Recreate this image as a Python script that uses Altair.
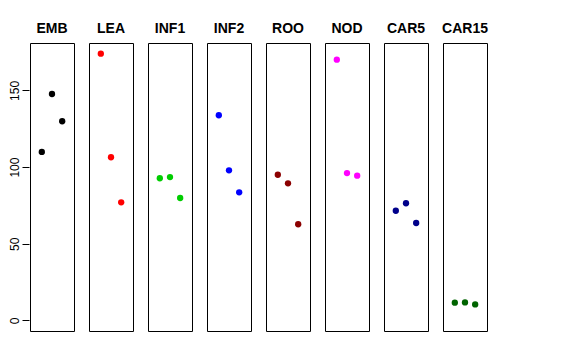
import altair as alt
import pandas as pd

samples = ["EMB", "LEA", "INF1", "INF2", "ROO", "NOD", "CAR5", "CAR15"]
colors = ["#000000", "#FF0000", "#00CD00", "#0000FF", "#8B0000", "#FF00FF", "#00008B", "#006400"]
replicate = [1, 2, 3]
values = {
    "EMB": [109.9, 147.7, 129.9],
    "LEA": [174.0, 106.4, 77.0],
    "INF1": [92.7, 93.5, 79.8],
    "INF2": [133.8, 97.9, 83.5],
    "ROO": [95.0, 89.4, 62.7],
    "NOD": [170.1, 96.1, 94.4],
    "CAR5": [71.5, 76.4, 63.5],
    "CAR15": [11.5, 11.7, 10.4],
}

rows = []
for s in samples:
    for r, v in zip(replicate, values[s]):
        rows.append({"sample": s, "rep": r, "value": v})
df = pd.DataFrame(rows)

ymax = 174.0
pad = 0.04 * ymax
base = alt.Chart(df).mark_circle(size=40, opacity=1).encode(
    x=alt.X("rep:Q", scale=alt.Scale(domain=[-0.16, 4.16], nice=False, zero=False), axis=None),
    y=alt.Y("value:Q", scale=alt.Scale(domain=[-pad, ymax + pad], nice=False, zero=False),
            axis=alt.Axis(title=None, values=[0, 50, 100, 150], grid=False, domain=False,
                          tickSize=7, tickColor="black", labelAngle=-90, labelFontSize=12,
                          labelFont="Liberation Sans", labelColor="black", labelPadding=1)),
    color=alt.Color("sample:N", scale=alt.Scale(domain=samples, range=colors), legend=None),
).properties(width=44, height=288)

chart = base.facet(
    column=alt.Column("sample:N", sort=samples,
                      header=alt.Header(title=None, labelFontWeight="bold", labelFontSize=14,
                                        labelFont="Liberation Sans", labelColor="black",
                                        labelPadding=6)),
    spacing=13,
).configure_view(stroke="black", strokeWidth=1).properties(
    padding={"left": 0, "top": 14, "right": 5, "bottom": 5}
)

chart.save("out.html", embed_options={"renderer": "svg", "actions": False})
